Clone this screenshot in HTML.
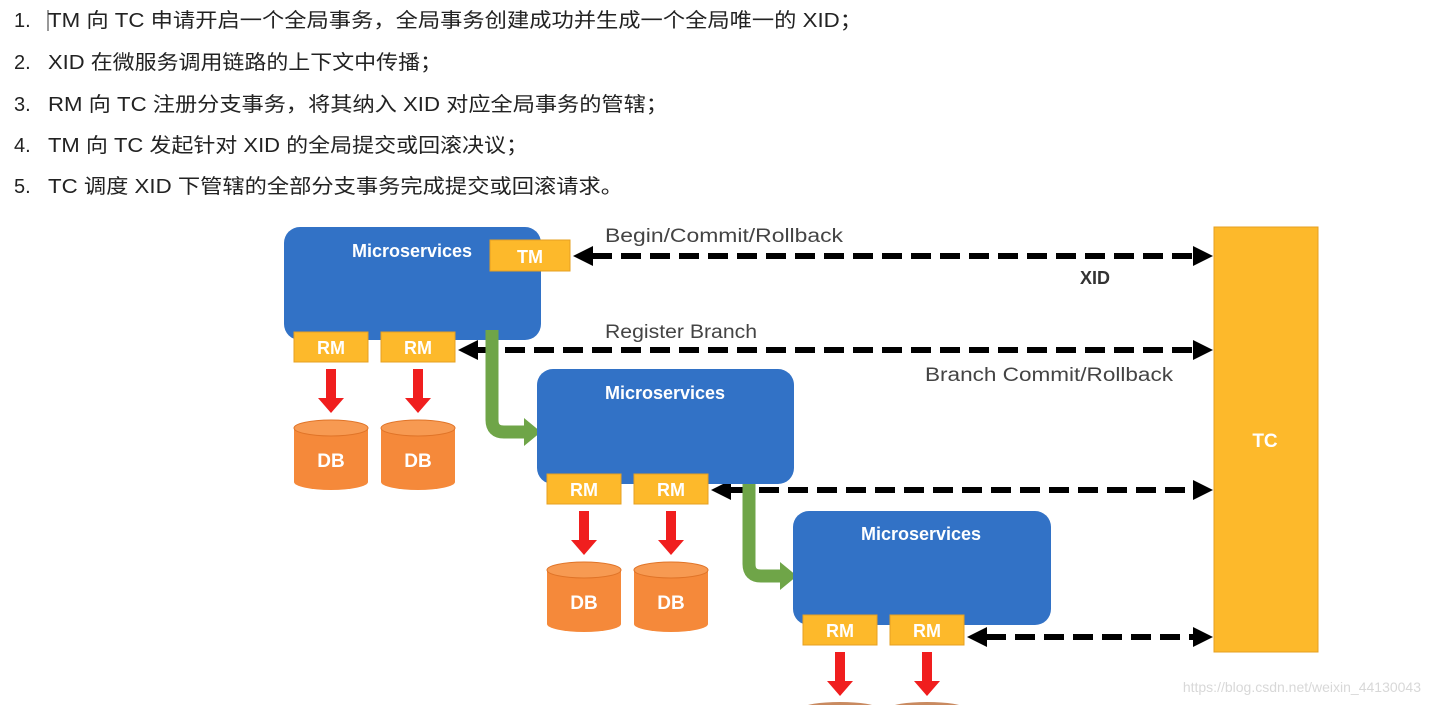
<!DOCTYPE html>
<html><head><meta charset="utf-8"><style>
html,body{margin:0;padding:0;background:#fff;width:1431px;height:705px;overflow:hidden}
svg{display:block}
.t{font-family:"Liberation Sans","Noto Sans CJK SC",sans-serif;font-size:20px;fill:#222}
.w{font-family:"Liberation Sans",sans-serif;font-weight:bold;fill:#fff}
.l{font-family:"Liberation Sans",sans-serif;font-size:19px;fill:#444}
</style></head><body>
<svg width="1431" height="705" viewBox="0 0 1431 705">
<defs>
<g id="ra"><rect x="-5" y="0" width="10" height="30" fill="#f01e1e"/><polygon points="-13,29 13,29 0,44" fill="#f01e1e"/></g>
<g id="db"><path d="M0,8 L0,62 A37,8 0 0 0 74,62 L74,8 Z" fill="#f5893a"/><ellipse cx="37" cy="8" rx="37" ry="8" fill="#f79a52" stroke="#e07428" stroke-width="1"/><text x="37" y="47" text-anchor="middle" class="w" font-size="19">DB</text></g>
<g id="rm"><rect x="0" y="0" width="74" height="30" fill="#fdb92b" stroke="#e6a020"/><text x="37" y="22" text-anchor="middle" class="w" font-size="18">RM</text></g>
</defs>

<text class="t" x="14" y="27">1.</text><text class="t" x="48" y="27" textLength="814" lengthAdjust="spacingAndGlyphs">TM 向 TC 申请开启一个全局事务，全局事务创建成功并生成一个全局唯一的 XID；</text>
<line x1="48" y1="10" x2="48" y2="31" stroke="#333" stroke-width="1"/>
<text class="t" x="14" y="69">2.</text><text class="t" x="48" y="69" textLength="394" lengthAdjust="spacingAndGlyphs">XID 在微服务调用链路的上下文中传播；</text>
<text class="t" x="14" y="111">3.</text><text class="t" x="48" y="111" textLength="620" lengthAdjust="spacingAndGlyphs">RM 向 TC 注册分支事务，将其纳入 XID 对应全局事务的管辖；</text>
<text class="t" x="14" y="152">4.</text><text class="t" x="48" y="152" textLength="480" lengthAdjust="spacingAndGlyphs">TM 向 TC 发起针对 XID 的全局提交或回滚决议；</text>
<text class="t" x="14" y="193">5.</text><text class="t" x="48" y="193" textLength="575" lengthAdjust="spacingAndGlyphs">TC 调度 XID 下管辖的全部分支事务完成提交或回滚请求。</text>

<rect x="1214" y="227" width="104" height="425" fill="#fdb92b" stroke="#e6a020"/>
<text x="1265" y="447" text-anchor="middle" class="w" font-size="19">TC</text>

<g stroke="#000" stroke-width="6" stroke-dasharray="20,9">
<line x1="592" y1="256" x2="1194" y2="256"/>
<line x1="476" y1="350" x2="1194" y2="350"/>
<line x1="730" y1="490" x2="1194" y2="490"/>
<line x1="986" y1="637" x2="1194" y2="637"/>
</g>
<g fill="#000">
<polygon points="573,256 593,246 593,266"/><polygon points="1213,256 1193,246 1193,266"/>
<polygon points="458,350 478,340 478,360"/><polygon points="1213,350 1193,340 1193,360"/>
<polygon points="711,490 731,480 731,500"/><polygon points="1213,490 1193,480 1193,500"/>
<polygon points="967,637 987,627 987,647"/><polygon points="1213,637 1193,627 1193,647"/>
</g>
<text class="l" x="605" y="242" textLength="238" lengthAdjust="spacingAndGlyphs">Begin/Commit/Rollback</text>
<text x="1080" y="284" font-family="Liberation Sans,sans-serif" font-weight="bold" font-size="18" fill="#333">XID</text>
<text class="l" x="605" y="338" textLength="152" lengthAdjust="spacingAndGlyphs">Register Branch</text>
<text class="l" x="925" y="381" textLength="248" lengthAdjust="spacingAndGlyphs">Branch Commit/Rollback</text>

<rect x="284" y="227" width="257" height="113" rx="16" fill="#3272c6"/>
<text x="412" y="257" text-anchor="middle" class="w" font-size="18">Microservices</text>
<rect x="490" y="240" width="80" height="31" fill="#fdb92b" stroke="#e6a020"/>
<text x="530" y="263" text-anchor="middle" class="w" font-size="18">TM</text>
<use href="#rm" x="294" y="332"/><use href="#rm" x="381" y="332"/>
<use href="#ra" x="331" y="369"/><use href="#ra" x="418" y="369"/>
<use href="#db" x="294" y="420"/><use href="#db" x="381" y="420"/>

<path d="M492,330 L492,420 Q492,432 504,432 L526,432" fill="none" stroke="#6fa548" stroke-width="13"/>
<polygon points="524,418 541,432 524,446" fill="#6fa548"/>

<rect x="537" y="369" width="257" height="115" rx="16" fill="#3272c6"/>
<text x="665" y="399" text-anchor="middle" class="w" font-size="18">Microservices</text>
<use href="#rm" x="547" y="474"/><use href="#rm" x="634" y="474"/>
<use href="#ra" x="584" y="511"/><use href="#ra" x="671" y="511"/>
<use href="#db" x="547" y="562"/><use href="#db" x="634" y="562"/>

<path d="M749,484 L749,564 Q749,576 761,576 L782,576" fill="none" stroke="#6fa548" stroke-width="13"/>
<polygon points="780,562 797,576 780,590" fill="#6fa548"/>

<rect x="793" y="511" width="258" height="114" rx="16" fill="#3272c6"/>
<text x="921" y="540" text-anchor="middle" class="w" font-size="18">Microservices</text>
<use href="#rm" x="803" y="615"/><use href="#rm" x="890" y="615"/>
<use href="#ra" x="840" y="652"/><use href="#ra" x="927" y="652"/>
<ellipse cx="840" cy="708" rx="37" ry="6" fill="#c98a60"/>
<ellipse cx="927" cy="708" rx="37" ry="6" fill="#c98a60"/>

<text x="1421" y="692" text-anchor="end" font-family="Liberation Sans,sans-serif" font-size="14" fill="#d8d8d8">https://blog.csdn.net/weixin_44130043</text>
</svg>
</body></html>
